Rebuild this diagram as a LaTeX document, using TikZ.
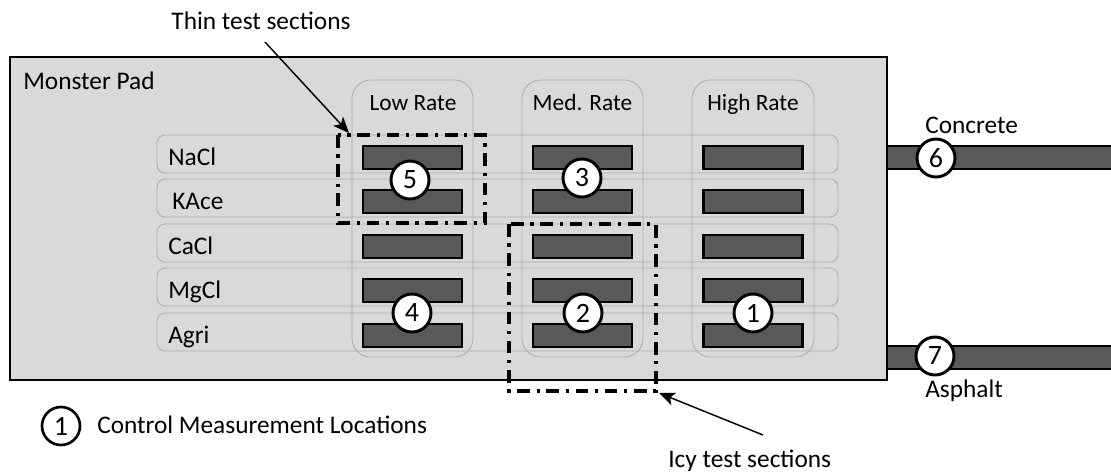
\documentclass[tikz,border=0pt]{standalone}
\usepackage{fontspec}
\setmainfont{Carlito}
\usetikzlibrary{arrows.meta}
\definecolor{padfill}{HTML}{D9D9D9}
\definecolor{barfill}{HTML}{595959}
\definecolor{guide}{HTML}{ADADAD}
\begin{document}
\begin{tikzpicture}[x=0.75pt,y=-0.75pt,
  every node/.style={font=\fontsize{19}{21}\selectfont, inner sep=0pt},
  pad/.style={draw=black, line width=2pt, fill=padfill},
  guidebox/.style={draw=guide, line width=0.6pt, rounded corners=14pt},
  rowbox/.style={draw=guide, line width=0.6pt, rounded corners=6pt},
  bar/.style={draw=black, line width=2pt, fill=barfill, minimum width=74.25pt, minimum height=17.25pt},
  road/.style={draw=black, line width=2pt, fill=barfill},
  numcirc/.style={circle, draw=black, line width=2.2pt, fill=white, minimum size=28.5pt, font=\fontsize{21}{23}\selectfont},
  testbox/.style={draw=black, line width=2.4pt, dash pattern=on 9.5pt off 5pt on 2.4pt off 5pt},
  pointer/.style={draw=black, line width=1.1pt, -{Stealth[length=12pt,width=10pt,inset=3pt]}},
  hdr/.style={font=\fontsize{17.5}{19}\selectfont},
]
\useasboundingbox (0,0) rectangle (1111,472);
% roads
\begin{scope}
\clip (0,0) rectangle (1111,472);
\draw[road] (880,146) rectangle (1120,169);
\draw[road] (880,346) rectangle (1120,369);
\end{scope}
% pad
\draw[pad] (10,57) rectangle (887,380);
\node[anchor=base west] (padlabel) at (23,89) {Monster Pad};
% columns
\draw[guidebox] (352,80) rectangle (473,357);
\draw[guidebox] (522,80) rectangle (643,357);
\draw[guidebox] (692,80) rectangle (814,357);
\node[hdr, anchor=base] (hlow) at (413,110) {Low Rate};
\node[hdr, anchor=base] (hmed) at (582.5,110) {Med. Rate};
\node[hdr, anchor=base] (hhigh) at (753,110) {High Rate};
% rows
\foreach \t/\lab/\xo/\nm in {135/NaCl/168/rnacl,179/KAce/172/rkace,224/CaCl/168/rcacl,268/MgCl/168/rmgcl,313/Agri/168/ragri}{
  \draw[rowbox] (157,\t) rectangle (838,\t+38);
  \node[anchor=base west] (\nm) at (\xo,\t+30.5) {\lab};
  \node[bar] (\nm-l) at (412.5,\t+22.5) {};
  \node[bar] (\nm-m) at (582.5,\t+22.5) {};
  \node[bar] (\nm-h) at (753,\t+22.5) {};
}
% test boxes
\draw[testbox] (338,135) rectangle (485,223);
\draw[testbox] (509,224) rectangle (656,391);
% circles
\node[numcirc] (c5) at (410,180) {5};
\node[numcirc] (c3) at (582,178) {3};
\node[numcirc] (c4) at (412,313) {4};
\node[numcirc] (c2) at (583,313) {2};
\node[numcirc] (c1) at (753,313) {1};
\node[numcirc] (c6) at (936,158) {6};
\node[numcirc] (c7) at (935,356) {7};
\node[anchor=base west] (concrete) at (925,133) {Concrete};
\node[anchor=base west] (asphalt) at (925,397) {Asphalt};
% legend
\node[numcirc, line width=2pt] (legc) at (61,426) {1};
\node[anchor=base west] (legt) at (97,433) {Control Measurement Locations};
% callouts
\node[anchor=base] (thin) at (261,29) {Thin test sections};
\node[anchor=base west] (icy) at (668,467) {Icy test sections};
\coordinate (thintip) at (349,133);
\coordinate (icytip) at (659,393);
\draw[pointer] (265,42) -- (thintip);
\draw[pointer] (763,435) -- (icytip);
\end{tikzpicture}
\end{document}
